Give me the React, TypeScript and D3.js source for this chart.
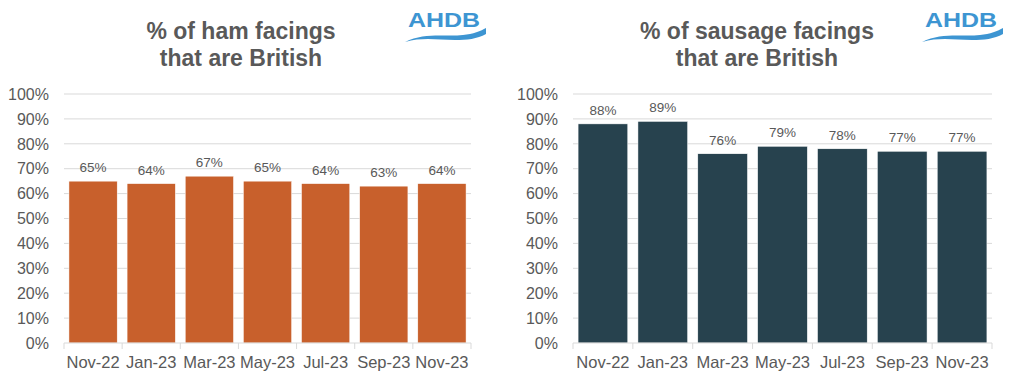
import React from 'react';
import * as d3 from 'd3';

const months = ['Nov-22', 'Jan-23', 'Mar-23', 'May-23', 'Jul-23', 'Sep-23', 'Nov-23'];
const hamValues = [65, 64, 67, 65, 64, 63, 64];
const sausageValues = [88, 89, 76, 79, 78, 77, 77];
const yTicks = [0, 10, 20, 30, 40, 50, 60, 70, 80, 90, 100];
const hamTitle = ['% of ham facings', 'that are British'];
const sausageTitle = ['% of sausage facings', 'that are British'];

const W = 1024;
const H = 387;
const top = 94;
const bottom = 343;
const font = 'Arial, "Liberation Sans", sans-serif';
const grey = '#595959';

function Logo({ x, y }: { x: number; y: number }) {
  return (
    <g transform={`translate(${x},${y})`}>
      <text x={39} y={22} textAnchor="middle" fontFamily={font} fontWeight="bold" fontSize={20}
        fill="#3d95d2" textLength={72} lengthAdjust="spacingAndGlyphs">AHDB</text>
      <path d="M0,37 C20,27 40,32 58,30 C68,29 76,26 81,23 L81,29 C72,34 62,35 50,35 C32,35 18,32 0,37 Z"
        fill="#3d95d2" />
    </g>
  );
}

function Panel({ values, title, color, x0, x1, labelRight, titleX, logoX }: {
  values: number[]; title: string[]; color: string; x0: number; x1: number;
  labelRight: number; titleX: number; logoX: number;
}) {
  const x = d3.scaleBand<string>().domain(months).range([x0, x1]).paddingInner(0.17).paddingOuter(0.085);
  const y = d3.scaleLinear().domain([0, 100]).range([bottom, top]);
  const edges = d3.range(months.length + 1).map(i => x0 + i * ((x1 - x0) / months.length));
  return (
    <g>
      {title.map((t, i) => (
        <text key={i} x={titleX} y={39 + i * 27} textAnchor="middle" fontFamily={font}
          fontWeight="bold" fontSize={23} fill={grey}>{t}</text>
      ))}
      <Logo x={logoX} y={5} />
      {yTicks.map(t => (
        <g key={t}>
          {t > 0 && <line x1={x0} x2={x1} y1={y(t)} y2={y(t)} stroke="#d9d9d9" strokeWidth={1} />}
          <text x={labelRight} y={y(t)} dy="0.36em" textAnchor="end" fontFamily={font}
            fontSize={16} fill={grey}>{t}%</text>
        </g>
      ))}
      {values.map((v, i) => (
        <g key={i}>
          <rect x={x(months[i])} y={y(v)} width={x.bandwidth()} height={bottom - y(v)}
            fill={color} stroke="#fff" strokeWidth={0.5} />
          <text x={(x(months[i]) as number) + x.bandwidth() / 2} y={y(v) - 9} textAnchor="middle"
            fontFamily={font} fontSize={13.5} fill={grey}>{v}%</text>
          <text x={(x(months[i]) as number) + x.bandwidth() / 2} y={368} textAnchor="middle"
            fontFamily={font} fontSize={16.5} fill={grey}>{months[i]}</text>
        </g>
      ))}
      <line x1={x0} x2={x1} y1={bottom} y2={bottom} stroke="#d9d9d9" strokeWidth={1} />
      {edges.map((e, i) => (
        <line key={i} x1={e} x2={e} y1={bottom} y2={bottom + 6} stroke="#d9d9d9" strokeWidth={1} />
      ))}
    </g>
  );
}

export default function App() {
  return (
    <svg width={W} height={H} style={{ position: 'absolute', left: 0, top: 0, background: '#fff' }}>
      <rect width={W} height={H} fill="#fff" />
      <Panel values={hamValues} title={hamTitle} color="#c8602c" x0={64} x1={471}
        labelRight={49} titleX={241} logoX={405} />
      <Panel values={sausageValues} title={sausageTitle} color="#27424e" x0={573} x1={992}
        labelRight={558} titleX={757} logoX={922} />
    </svg>
  );
}
